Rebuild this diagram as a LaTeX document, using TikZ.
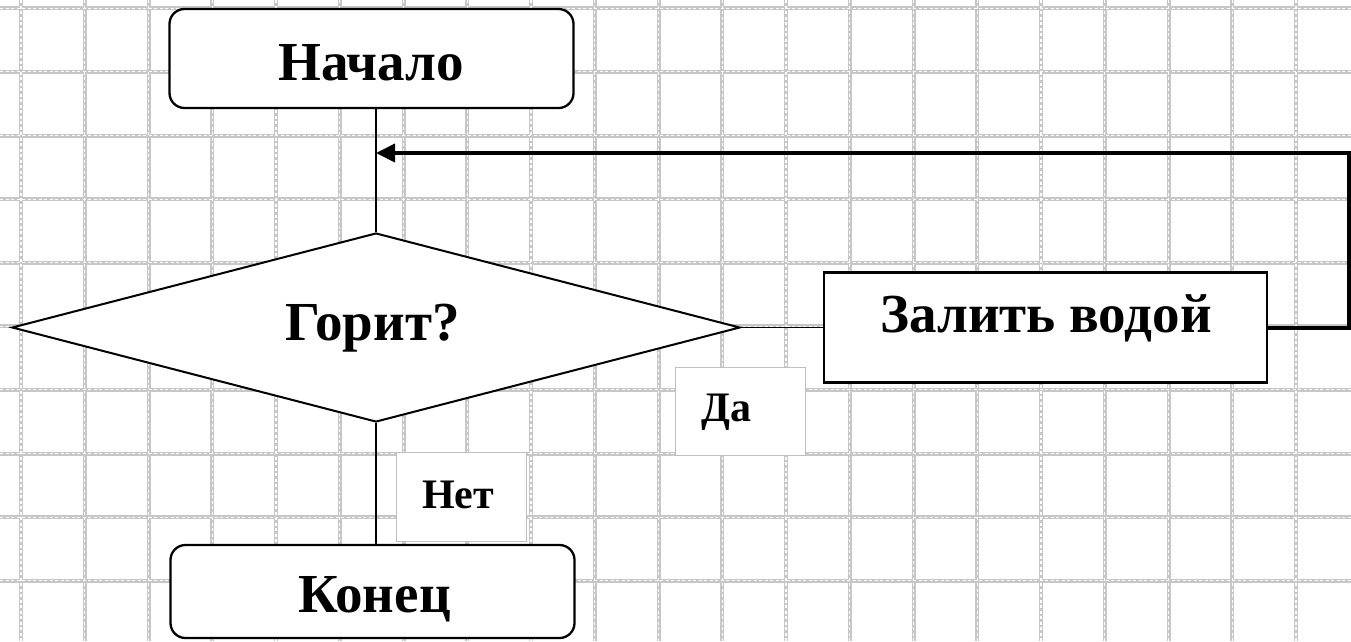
\documentclass[tikz,border=0pt]{standalone}
\usepackage{fontspec}
\setmainfont{Liberation Serif}
\usetikzlibrary{arrows.meta,shapes.geometric}
\begin{document}
\begin{tikzpicture}[x=1pt,y=-1pt,
  gridout/.style={draw=black!22, line width=4pt},
  gridin/.style={draw=white, line width=1.1pt, dash pattern=on 3pt off 2.5pt},
  term/.style={draw, line width=2.3pt, rounded corners=15pt, fill=white, minimum width=404pt, inner sep=0pt},
  decis/.style={draw, diamond, line width=2pt, fill=white, minimum width=728pt, minimum height=189pt, inner sep=0pt},
  proc/.style={draw, rectangle, line width=2.8pt, fill=white, minimum width=443pt, minimum height=110pt, inner sep=0pt},
  lbox/.style={draw=black!25, line width=0.8pt, fill=white, minimum width=130pt, minimum height=88pt, inner sep=0pt},
  bigtxt/.style={font=\fontsize{55}{60}\selectfont\bfseries, inner sep=0pt, anchor=base},
  smalltxt/.style={font=\fontsize{42}{46}\selectfont\bfseries, inner sep=0pt, anchor=base},
  conn/.style={draw, line width=1.9pt},
  loopline/.style={draw, line width=4pt, -{Triangle[length=19pt,width=18pt]}}
]
\useasboundingbox (0,0) rectangle (1351,641);
% grid background
\foreach \i in {0,...,20} {
  \draw[gridout] ({21+63.75*\i},0) -- ({21+63.75*\i},641);
}
\foreach \j in {0,...,9} {
  \draw[gridout] (0,{8.3+63.6*\j}) -- (1351,{8.3+63.6*\j});
}
\foreach \i in {0,...,20} {
  \draw[gridin] ({21+63.75*\i},0) -- ({21+63.75*\i},641);
}
\foreach \j in {0,...,9} {
  \draw[gridin] (0,{8.3+63.6*\j}) -- (1351,{8.3+63.6*\j});
}
% shapes
\node[term, minimum height=99pt] (start) at (371.5,58.5) {};
\node[decis] (dec) at (376,327.5) {};
\node[proc] (act) at (1045.5,327.5) {};
\node[term, minimum height=93pt] (stop) at (372.5,591.5) {};
\node[lbox] (yesbox) at (740,411) {};
\node[lbox, minimum height=89pt] (nobox) at (461,496.5) {};
% texts
\node[bigtxt] (tstart) at (371,80) {Начало};
\node[bigtxt] (tdec) at (372.5,340) {Горит?};
\node[bigtxt] (tact) at (1046,332) {Залить водой};
\node[bigtxt] (tstop) at (374.5,612) {Конец};
\node[smalltxt] (tyes) at (726.7,421.7) {Да};
\node[smalltxt] (tno) at (458,508) {Нет};
% connectors
\coordinate (rc1) at (1349,327.5);
\coordinate (rc2) at (1349,153);
\coordinate (merge) at (376,153);
\draw[conn] (start.south -| dec.north) -- (dec.north);
\draw[conn] (dec.east) -- (act.west);
\draw[conn] (dec.south) -- (dec.south |- stop.north);
\draw[loopline] (act.east) -- (rc1) -- (rc2) -- (merge);
\end{tikzpicture}
\end{document}
